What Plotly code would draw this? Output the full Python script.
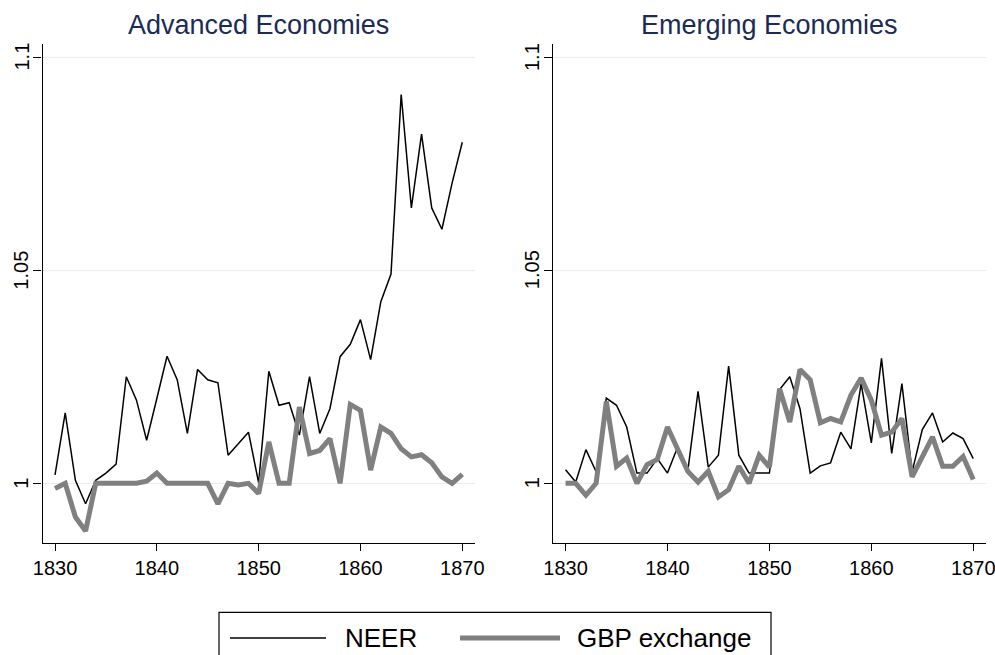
import plotly.graph_objects as go

# Annual series, 1830-1870
years = list(range(1830, 1871))

adv_neer = [1.0020, 1.0165, 1.0007, 0.9952, 1.0007, 1.0024, 1.0045, 1.0250, 1.0195, 1.0101,
            1.0199, 1.0298, 1.0243, 1.0117, 1.0267, 1.0243, 1.0236, 1.0066, 1.0093, 1.0120,
            1.0001, 1.0263, 1.0183, 1.0189, 1.0113, 1.0250, 1.0117, 1.0175, 1.0297, 1.0326,
            1.0384, 1.0290, 1.0426, 1.0491, 1.0912, 1.0646, 1.0819, 1.0646, 1.0596, 1.0704,
            1.0800]
adv_gbp = [0.9988, 1.0000, 0.9921, 0.9888, 1.0000, 1.0000, 1.0000, 1.0000, 1.0000, 1.0005,
           1.0024, 1.0000, 1.0000, 1.0000, 1.0000, 1.0000, 0.9952, 1.0000, 0.9996, 1.0000,
           0.9976, 1.0097, 1.0000, 1.0000, 1.0179, 1.0070, 1.0077, 1.0105, 1.0000, 1.0185,
           1.0171, 1.0031, 1.0132, 1.0117, 1.0081, 1.0062, 1.0067, 1.0048, 1.0015, 1.0000,
           1.0021]
emg_neer = [1.0032, 1.0003, 1.0079, 1.0027, 1.0200, 1.0183, 1.0132, 1.0024, 1.0024, 1.0058,
            1.0024, 1.0085, 1.0030, 1.0216, 1.0038, 1.0066, 1.0275, 1.0066, 1.0024, 1.0024,
            1.0024, 1.0220, 1.0250, 1.0175, 1.0024, 1.0041, 1.0048, 1.0120, 1.0081, 1.0234,
            1.0095, 1.0293, 1.0070, 1.0234, 1.0027, 1.0126, 1.0165, 1.0097, 1.0118, 1.0105,
            1.0058]
emg_gbp = [1.0000, 1.0000, 0.9972, 1.0000, 1.0192, 1.0040, 1.0059, 1.0000, 1.0044, 1.0056,
           1.0132, 1.0081, 1.0028, 1.0003, 1.0028, 0.9968, 0.9985, 1.0040, 1.0000, 1.0066,
           1.0038, 1.0222, 1.0144, 1.0267, 1.0243, 1.0142, 1.0152, 1.0144, 1.0207, 1.0247,
           1.0195, 1.0113, 1.0120, 1.0152, 1.0015, 1.0062, 1.0109, 1.0040, 1.0040, 1.0063,
           1.0009]

panel_titles = ["Advanced Economies", "Emerging Economies"]
series_names = ["NEER", "GBP exchange"]
x_ticks = [1830, 1840, 1850, 1860, 1870]
y_ticks = [1.0, 1.05, 1.1]
y_tick_text = ["1", "1.05", "1.1"]

W, H = 995, 655
FONT = "Liberation Sans, Arial, sans-serif"
TITLE_COLOR = "#1a2b57"
NEER_COLOR = "#000000"
GBP_COLOR = "#808080"
GRID_COLOR = "#e6eef1"

# Panel edges in pixels
LEFT_PANEL = (42.5, 475)
RIGHT_PANEL = (553, 986)


def px_x(v):
    return v / W


def px_y(v):
    return (H - v) / H


fig = go.Figure()

panels = [(adv_neer, adv_gbp, "x", "y"), (emg_neer, emg_gbp, "x2", "y2")]
for neer, gbp, xa, ya in panels:
    fig.add_trace(go.Scatter(x=years, y=neer, mode="lines", name=series_names[0],
                             line=dict(color=NEER_COLOR, width=1.5),
                             xaxis=xa, yaxis=ya, showlegend=False))
    fig.add_trace(go.Scatter(x=years, y=gbp, mode="lines", name=series_names[1],
                             line=dict(color=GBP_COLOR, width=5),
                             xaxis=xa, yaxis=ya, showlegend=False))

x_range = [1828.77, 1871.25]
y_range = [0.98593, 1.10305]
y_dom = [px_y(543.3), px_y(44)]

xaxis_common = dict(range=x_range, tickvals=x_ticks, ticks="outside", ticklen=7,
                    tickwidth=1.2, tickcolor="#000", showline=True, linecolor="#000",
                    linewidth=1.3, showgrid=False, zeroline=False, automargin=False,
                    ticklabeloverflow="allow",
                    tickfont=dict(family=FONT, size=20, color="#000"))
yaxis_common = dict(range=y_range, domain=y_dom, tickvals=y_ticks,
                    ticks="outside", ticklen=8, tickwidth=1.2, tickcolor="#000",
                    showline=True, linecolor="#000", linewidth=1.3, showgrid=True,
                    gridcolor=GRID_COLOR, gridwidth=1, zeroline=False, automargin=False,
                    showticklabels=False)

fig.update_layout(
    width=W, height=H,
    margin=dict(l=0, r=0, t=0, b=0),
    paper_bgcolor="white", plot_bgcolor="white",
    showlegend=False,
    xaxis=dict(domain=[px_x(LEFT_PANEL[0]), px_x(LEFT_PANEL[1])], anchor="y", **xaxis_common),
    yaxis=dict(anchor="x", **yaxis_common),
    xaxis2=dict(domain=[px_x(RIGHT_PANEL[0]), px_x(RIGHT_PANEL[1])], anchor="y2", **xaxis_common),
    yaxis2=dict(anchor="x2", **yaxis_common),
)

# Vertical y tick labels, reading bottom to top
for yref, (a, _) in [("y", LEFT_PANEL), ("y2", RIGHT_PANEL)]:
    for val, txt in zip(y_ticks, y_tick_text):
        fig.add_annotation(text=txt, xref="paper", yref=yref, x=px_x(a - 21), y=val,
                           xanchor="center", yanchor="middle", textangle=-90,
                           showarrow=False, font=dict(family=FONT, size=20, color="#000"))

# Panel titles
for title, (a, b) in zip(panel_titles, [LEFT_PANEL, RIGHT_PANEL]):
    fig.add_annotation(text=title, xref="paper", yref="paper",
                       x=px_x((a + b) / 2), y=px_y(25), xanchor="center", yanchor="middle",
                       showarrow=False, font=dict(family=FONT, size=27, color=TITLE_COLOR))

# Legend box drawn at the bottom
fig.add_shape(type="rect", xref="paper", yref="paper",
              x0=px_x(219), x1=px_x(771), y0=px_y(670), y1=px_y(612.3),
              line=dict(color="#000", width=1.2), fillcolor="rgba(0,0,0,0)")
fig.add_shape(type="line", xref="paper", yref="paper",
              x0=px_x(230), x1=px_x(326), y0=px_y(638), y1=px_y(638),
              line=dict(color=NEER_COLOR, width=1.5))
fig.add_shape(type="line", xref="paper", yref="paper",
              x0=px_x(460), x1=px_x(560), y0=px_y(638), y1=px_y(638),
              line=dict(color=GBP_COLOR, width=5))
for name, x0 in zip(series_names, [345, 577]):
    fig.add_annotation(text=name, xref="paper", yref="paper",
                       x=px_x(x0), y=px_y(638), xanchor="left", yanchor="middle",
                       showarrow=False, xshift=-2,
                       font=dict(family=FONT, size=26, color="#000"))

fig.write_html("out.html")
